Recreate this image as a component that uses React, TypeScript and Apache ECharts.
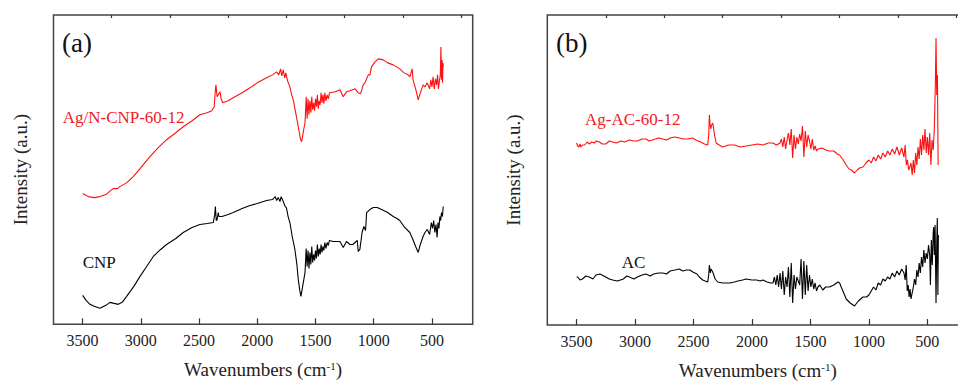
import React, { useEffect, useRef } from "react";
import * as echarts from "echarts";

// Panel (a): Ag/N-CNP-60-12 (red)
const agCnpWave = [3500, 3470, 3450, 3400, 3351, 3300, 3260, 3237, 3200, 3180, 3120, 3065, 3000, 2922, 2850, 2779, 2700, 2636, 2560, 2493, 2430, 2392, 2370, 2362, 2355, 2345, 2335, 2320, 2310, 2298, 2250, 2207, 2130, 2063, 2000, 1920, 1870, 1834, 1815, 1800, 1790, 1777, 1765, 1755, 1740, 1720, 1705, 1691, 1670, 1648, 1630, 1619,
  1600, 1590, 1580, 1572, 1564, 1556, 1548, 1540, 1532, 1524, 1516, 1508, 1500, 1492, 1484, 1476, 1468, 1460, 1452, 1444, 1436, 1428, 1420, 1410, 1400, 1390, 1380,
  1330, 1290, 1262, 1234, 1204, 1160, 1133, 1113, 1090, 1076, 1047, 1033, 1019, 989, 960, 918, 880, 833, 803, 776, 740, 705, 689, 670, 662, 640, 618, 600, 576,
  560, 540, 520, 510, 500, 490, 480, 470, 460, 452, 444, 436, 428, 423, 418, 413, 409, 405, 402];
const agCnpInt = [131, 129, 128, 127, 128, 130, 134, 136, 136, 138, 142, 148, 157, 168, 177, 185, 192, 198, 204, 210, 212, 214, 218, 232, 240, 228, 230, 233, 226, 222, 224, 227, 232, 237, 242, 247, 250, 253, 250, 256, 249, 255, 247, 252, 244, 238, 230, 225, 212, 198, 186, 183,
  196, 202, 228, 206, 226, 210, 224, 212, 228, 215, 222, 214, 226, 218, 230, 216, 224, 220, 232, 222, 230, 221, 232, 224, 230, 226, 232,
  233, 235, 228, 233, 234, 236, 232, 231, 240, 242, 250, 250, 258, 263, 266, 265, 262, 260, 258, 256, 252, 250, 248, 256, 245, 236, 225, 232, 240,
  238, 242, 236, 245, 238, 248, 236, 246, 240, 250, 236, 244, 250, 278, 245, 265, 242, 262, 258];

// Panel (a): CNP (black)
const cnpWave = [3500, 3470, 3437, 3400, 3351, 3300, 3265, 3230, 3194, 3160, 3122, 3060, 3007, 2950, 2893, 2830, 2779, 2700, 2636, 2560, 2493, 2430, 2378, 2365, 2360, 2352, 2345, 2335, 2330, 2304, 2250, 2207, 2130, 2063, 2000, 1920, 1870, 1845, 1834, 1820, 1805, 1795, 1777, 1760, 1750, 1735, 1720, 1700, 1677, 1660, 1648, 1635, 1625,
  1600, 1590, 1580, 1572, 1564, 1556, 1548, 1540, 1532, 1524, 1516, 1508, 1500, 1492, 1484, 1476, 1468, 1460, 1452, 1444, 1436, 1428, 1420, 1410, 1400, 1390, 1380,
  1350, 1320, 1290, 1262, 1234, 1204, 1180, 1141, 1133, 1119, 1100, 1085, 1070, 1061, 1033, 1004, 970, 933, 880, 833, 800, 776, 740, 690, 660, 640, 618, 600,
  576, 560, 540, 520, 505, 495, 485, 475, 465, 456, 448, 440, 432, 425, 418, 410, 403];
const cnpInt = [29, 24, 20, 18, 16, 19, 22, 21, 20, 22, 28, 38, 48, 58, 68, 75, 80, 86, 92, 97, 100, 101, 102, 110, 118, 104, 105, 112, 108, 108, 110, 112, 116, 119, 121, 124, 125, 128, 124, 127, 123, 128, 123, 118, 117, 108, 102, 88, 75, 60, 45, 34, 28,
  45, 52, 76, 58, 74, 56, 72, 60, 78, 62, 70, 64, 74, 66, 80, 68, 76, 70, 80, 72, 78, 74, 82, 76, 82, 79, 84,
  83, 83, 83, 77, 83, 80, 80, 84, 73, 75, 92, 98, 94, 112, 115, 117, 117, 115, 112, 108, 106, 104, 98, 92, 84, 78, 72, 80,
  88, 92, 95, 90, 102, 96, 104, 92, 100, 87, 102, 96, 108, 104, 112, 108, 118];

// Panel (b): Ag-AC-60-12 (red)
const agAcWave = [3500, 3490, 3480, 3470, 3463, 3450, 3430, 3410, 3391, 3370, 3350, 3330, 3305, 3280, 3250, 3220, 3191, 3160, 3120, 3090, 3048, 3010, 2980, 2940, 2906, 2880, 2850, 2800, 2763, 2730, 2700, 2660, 2621, 2590, 2550, 2510, 2478, 2440, 2406, 2378, 2370, 2364, 2358, 2352, 2345, 2335, 2320, 2306, 2280, 2250, 2200, 2150, 2100, 2050, 2000, 1950, 1907, 1860, 1822, 1790,
  1760, 1748, 1736, 1724, 1712, 1700, 1688, 1676, 1664, 1652, 1640, 1628, 1616, 1604, 1592, 1580, 1568, 1556, 1544, 1532, 1520, 1508, 1496, 1484, 1472, 1460, 1448, 1436,
  1400, 1370, 1337, 1300, 1270, 1251, 1220, 1194, 1170, 1150, 1123, 1100, 1080, 1051, 1025,
  1000, 980, 960, 940, 920, 900, 880, 860, 840, 820, 800, 780, 760, 740, 720, 700, 690, 680, 670, 660, 650, 640, 630, 620, 610, 600, 590, 580, 570, 560, 550, 540, 530, 520, 510, 500, 490, 480, 470, 460, 450, 440, 432, 426, 420, 414, 408];
const agAcInt = [182, 179, 178, 181, 178, 180, 180, 183, 181, 183, 182, 184, 183, 181, 181, 184, 183, 182, 184, 183, 185, 184, 184, 186, 186, 184, 185, 187, 186, 185, 187, 188, 187, 186, 186, 187, 185, 183, 181, 180, 190, 210, 200, 196, 200, 202, 190, 182, 180, 178, 180, 180, 178, 179, 180, 181, 180, 182, 182, 180,
  182, 186, 178, 188, 176, 185, 192, 180, 196, 167, 190, 176, 188, 181, 191, 184, 199, 168, 194, 178, 190, 184, 176, 186, 175, 179, 174, 176,
  177, 175, 174, 174, 171, 170, 165, 160, 156, 155, 152, 155, 157, 158, 162,
  165, 162, 168, 164, 170, 166, 172, 168, 174, 170, 176, 171, 178, 170, 177, 168, 180, 160, 165, 155, 158, 162, 150, 165, 152, 172, 160, 178, 166, 186, 170, 190, 175, 196, 172, 188, 170, 192, 160, 185, 175, 198, 240, 287, 230, 250, 160];

// Panel (b): AC (black)
const acWave = [3500, 3490, 3470, 3450, 3420, 3391, 3360, 3334, 3300, 3250, 3220, 3191, 3150, 3100, 3070, 3048, 3010, 2980, 2940, 2906, 2870, 2840, 2800, 2763, 2730, 2700, 2660, 2621, 2590, 2560, 2530, 2506, 2470, 2450, 2421, 2400, 2378, 2370, 2364, 2356, 2350, 2335, 2315, 2292, 2250, 2192, 2150, 2120, 2080, 2050, 2000, 1960, 1930, 1907, 1870, 1840,
  1820, 1808, 1796, 1784, 1772, 1760, 1748, 1736, 1724, 1712, 1700, 1688, 1676, 1664, 1652, 1640, 1628, 1616, 1604, 1592, 1580, 1568, 1556, 1544, 1532, 1520, 1508, 1496, 1484, 1472, 1460, 1448, 1436,
  1420, 1394, 1370, 1337, 1300, 1265, 1250, 1237, 1215, 1194, 1160, 1123, 1090, 1051, 1020,
  1000, 980, 960, 940, 920, 900, 880, 860, 840, 820, 800, 780, 760, 740, 720, 700, 690, 681, 672, 664, 656, 648, 640, 630, 620, 610, 600, 590, 580, 570, 560, 550, 540, 530, 520, 510, 500, 490, 480, 474, 466, 458, 450, 446, 440, 434, 426, 420, 415, 410, 406];
const acInt = [48, 48, 45, 46, 49, 48, 46, 50, 51, 48, 46, 45, 44, 46, 49, 48, 46, 48, 50, 51, 49, 51, 52, 52, 51, 54, 55, 56, 54, 55, 55, 53, 51, 48, 45, 44, 43, 50, 60, 52, 56, 53, 46, 43, 42, 42, 43, 44, 45, 46, 45, 45, 44, 45, 43, 42,
  42, 48, 40, 50, 38, 52, 36, 54, 30, 48, 38, 58, 28, 62, 22, 50, 36, 48, 44, 40, 66, 26, 64, 30, 60, 34, 50, 38, 46, 36, 42, 34, 38,
  40, 35, 38, 38, 40, 43, 42, 38, 32, 26, 22, 19, 24, 28, 28,
  30, 34, 38, 35, 42, 40, 46, 44, 48, 46, 52, 48, 54, 50, 56, 52, 45, 60, 34, 40, 28, 36, 26, 32, 38, 46, 40, 55, 48, 62, 52, 68, 58, 75, 62, 72, 66, 80, 70, 40, 85, 60, 92, 98, 70, 100, 22, 80, 107, 30, 90];

const majorTicks = [3500, 3000, 2500, 2000, 1500, 1000, 500];
const minorTicks = [3250, 2750, 2250, 1750, 1250, 750, 250];
const xName = "{n|Wavenumbers (cm}{s|-1}{n|)}";
const yName = "Intensity (a.u.)";

const FONT = "Liberation Serif, serif";

const pairs = (xs: number[], ys: number[]) => xs.map((x, i) => [x, ys[i]]);

export default function App() {
  const ref = useRef<HTMLDivElement>(null);
  useEffect(() => {
    if (!ref.current) return;
    const chart = echarts.init(ref.current, undefined, { renderer: "svg" });
    const grids = [
      { left: 53.5, top: 15, width: 419.2, height: 309.3 },
      { left: 547.3, top: 15, width: 421, height: 310 },
    ];
    const mainX = (gi: number) => ({
      type: "value",
      gridIndex: gi,
      min: 150,
      max: 3750,
      inverse: true,
      axisLine: { show: false },
      splitLine: { show: false },
      axisTick: {
        show: true,
        inside: true,
        length: 6,
        customValues: majorTicks,
        lineStyle: { color: "#333", width: 1.2 },
      },
      axisLabel: {
        customValues: majorTicks,
        formatter: (v: number) => String(v),
        fontFamily: FONT,
        fontSize: 16,
        color: "#222",
        margin: 8,
      },
      name: xName,
      nameLocation: "middle",
      nameGap: 36,
      nameTextStyle: {
        color: "#222",
        fontFamily: FONT,
        rich: {
          n: { fontFamily: FONT, fontSize: 19, color: "#222" },
          s: { fontFamily: FONT, fontSize: 11, color: "#222", verticalAlign: "top" },
        },
      },
    });
    const minorX = (gi: number) => ({
      type: "value",
      gridIndex: gi,
      min: 150,
      max: 3750,
      inverse: true,
      axisLine: { show: false },
      splitLine: { show: false },
      axisLabel: { show: false },
      axisTick: {
        show: true,
        inside: true,
        length: 3,
        customValues: minorTicks,
        lineStyle: { color: "#333", width: 1.2 },
      },
    });
    const yAx = (gi: number) => ({
      type: "value",
      gridIndex: gi,
      min: 0,
      max: 310,
      axisLine: { show: false },
      axisTick: { show: false },
      axisLabel: { show: false },
      splitLine: { show: false },
      name: yName,
      nameLocation: "middle",
      nameGap: 24,
      nameTextStyle: { fontFamily: FONT, fontSize: 19, color: "#222" },
    });
    const line = (data: number[][], color: string, xi: number, yi: number) => ({
      type: "line",
      xAxisIndex: xi,
      yAxisIndex: yi,
      data,
      showSymbol: false,
      symbol: "none",
      lineStyle: { color, width: 1.1 },
      itemStyle: { color },
      silent: true,
    });
    const txt = (text: string, x: number, y: number, color: string, size: number) => ({
      type: "text",
      x,
      y,
      style: {
        text,
        fill: color,
        fontFamily: FONT,
        fontSize: size,
        verticalAlign: "middle",
        align: "left",
      },
    });
    chart.setOption({
      animation: false,
      backgroundColor: "#fff",
      grid: grids.map((g) => ({
        ...g,
        show: true,
        borderColor: "#444",
        borderWidth: 1.5,
        backgroundColor: "transparent",
      })),
      xAxis: [mainX(0), mainX(1), minorX(0), minorX(1)],
      yAxis: [yAx(0), yAx(1)],
      series: [
        line(pairs(agCnpWave, agCnpInt), "#ff1010", 0, 0),
        line(pairs(cnpWave, cnpInt), "#000", 0, 0),
        line(pairs(agAcWave, agAcInt), "#ff1010", 1, 1),
        line(pairs(acWave, acInt), "#000", 1, 1),
      ],
      graphic: [
        txt("(a)", 62, 43, "#111", 27),
        txt("(b)", 556, 43, "#111", 27),
        txt("Ag/N-CNP-60-12", 62.7, 117, "#ee1c24", 17),
        txt("CNP", 82.7, 262, "#111", 17),
        txt("Ag-AC-60-12", 585, 119, "#ee1c24", 17),
        txt("AC", 621.7, 262, "#111", 17),
      ],
    });
    return () => chart.dispose();
  }, []);
  return (
    <div
      style={{
        position: "fixed",
        left: 0,
        top: 0,
        width: 958,
        height: 385,
        overflow: "hidden",
        background: "#fff",
      }}
    >
      <div ref={ref} style={{ width: 990, height: 385 }} />
    </div>
  );
}
